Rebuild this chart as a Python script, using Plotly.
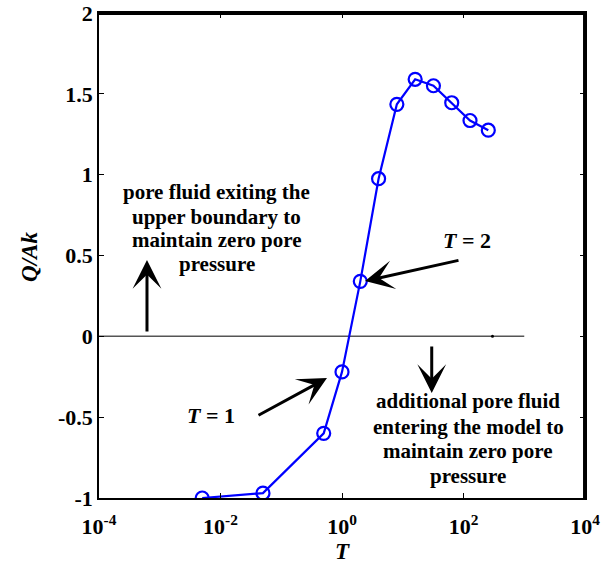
import plotly.graph_objects as go

# Data
T_values = [0.005, 0.05, 0.5, 1, 2, 4, 8, 16, 32, 64, 128, 256]
QAk_values = [-1.0, -0.97, -0.6, -0.22, 0.34, 0.975, 1.435, 1.59, 1.55, 1.445, 1.335, 1.275]

zero_x = [1e-4, 1e3]
zero_y = [0, 0]

x_tickvals = [1e-4, 1e-2, 1, 1e2, 1e4]
x_ticktext = ["10<sup>-4</sup>", "10<sup>-2</sup>", "10<sup>0</sup>", "10<sup>2</sup>", "10<sup>4</sup>"]
y_tickvals = [-1, -0.5, 0, 0.5, 1, 1.5, 2]
y_ticktext = ["-1", "-0.5", "0", "0.5", "1", "1.5", "2"]

upper_text = ["pore fluid exiting the", "upper boundary to", "maintain zero pore", "pressure"]
lower_text = ["additional pore fluid", "entering the model to", "maintain zero pore", "pressure"]

FONT = "Liberation Serif, Times New Roman, serif"
BF = dict(family=FONT, size=21, color="black", weight="bold")

fig = go.Figure()
fig.add_trace(go.Scatter(x=zero_x, y=zero_y, mode="lines",
                         line=dict(color="#555555", width=1.5), showlegend=False,
                         hoverinfo="skip"))
fig.add_trace(go.Scatter(x=[300], y=[0], mode="markers",
                         marker=dict(color="black", size=3), showlegend=False))
fig.add_trace(go.Scatter(x=T_values, y=QAk_values, mode="lines+markers",
                         line=dict(color="#0000ff", width=2.2),
                         marker=dict(symbol="circle-open", size=13, color="#0000ff",
                                     line=dict(width=2.2, color="#0000ff")),
                         showlegend=False))

annots = []
upper_y = [0.893, 0.741, 0.593, 0.450]
for t, yy in zip(upper_text, upper_y):
    annots.append(dict(x=-2.063, y=yy, xref="x", yref="y", showarrow=False, text=t,
                       font=BF, yanchor="middle"))
lower_y = [-0.403, -0.558, -0.712, -0.861]
for t, yy in zip(lower_text, lower_y):
    annots.append(dict(x=2.074, y=yy, xref="x", yref="y", showarrow=False, text=t,
                       font=BF, yanchor="middle"))
annots.append(dict(x=2.058, y=0.592, xref="x", yref="y", showarrow=False,
                   text="<i>T</i> = 2", font=dict(family=FONT, size=22, color="black", weight="bold")))
annots.append(dict(x=-2.161, y=-0.487, xref="x", yref="y", showarrow=False,
                   text="<i>T</i> = 1", font=dict(family=FONT, size=22, color="black", weight="bold")))

# axis titles
annots.append(dict(x=0.5, y=-0.1113, xref="paper", yref="paper", showarrow=False,
                   text="<i>T</i>", font=dict(family=FONT, size=23, color="black", weight="bold"),
                   yanchor="middle"))
annots.append(dict(x=-0.142, y=0.497, xref="paper", yref="paper", showarrow=False,
                   text="<i>Q/Ak</i>", textangle=-90,
                   font=dict(family=FONT, size=23, color="black", weight="bold"),
                   xanchor="center", yanchor="middle"))

# arrows (head at x,y ; tail at ax,ay)
arrows = [
    (-3.21, 0.472, -3.21, 0.02),
    (1.477, -0.351, 1.477, -0.054),
    (0.379, 0.342, 1.942, 0.472),
    (-0.247, -0.258, -1.399, -0.493),
]
for hx, hy, tx, ty in arrows:
    annots.append(dict(x=hx, y=hy, ax=tx, ay=ty, xref="x", yref="y", axref="x", ayref="y",
                       text="", showarrow=True, arrowhead=3, arrowsize=1.6, arrowwidth=3,
                       arrowcolor="black", standoff=0, startstandoff=0))

fig.update_layout(
    width=603, height=569,
    margin=dict(l=99, r=18, t=13, b=71, autoexpand=False),
    paper_bgcolor="white", plot_bgcolor="white",
    font=dict(family=FONT, size=22, color="black"),
    annotations=annots,
    showlegend=False,
    shapes=[
        dict(type="line", xref="x domain", yref="y domain", x0=0, x1=1, y0=0.998, y1=0.998,
             line=dict(color="black", width=2), layer="above"),
        dict(type="line", xref="x domain", yref="y domain", x0=0.998, x1=0.998, y0=0, y1=1,
             line=dict(color="black", width=2), layer="above"),
    ],
)
fig.update_xaxes(type="log", range=[-4, 4], tickvals=x_tickvals, ticktext=x_ticktext,
                 ticks="inside", ticklen=5, tickwidth=1.2, tickcolor="black",
                 showline=True, linecolor="black", linewidth=1.5, mirror="allticks",
                 showgrid=False, zeroline=False, automargin=False, ticklabelstandoff=8,
                 ticklabeloverflow="allow",
                 tickfont=dict(family=FONT, size=22, weight="bold"))
fig.update_yaxes(range=[-1, 2], tickvals=y_tickvals, ticktext=y_ticktext,
                 ticks="inside", ticklen=5, tickwidth=1.2, tickcolor="black",
                 showline=True, linecolor="black", linewidth=1.5, mirror="allticks",
                 showgrid=False, zeroline=False, automargin=False,
                 ticklabeloverflow="allow",
                 tickfont=dict(family=FONT, size=22, weight="bold"))

fig.write_html("out.html", config={"displayModeBar": False},
               post_script="document.body.style.margin='0';document.body.style.padding='0';document.body.style.overflow='hidden';")
